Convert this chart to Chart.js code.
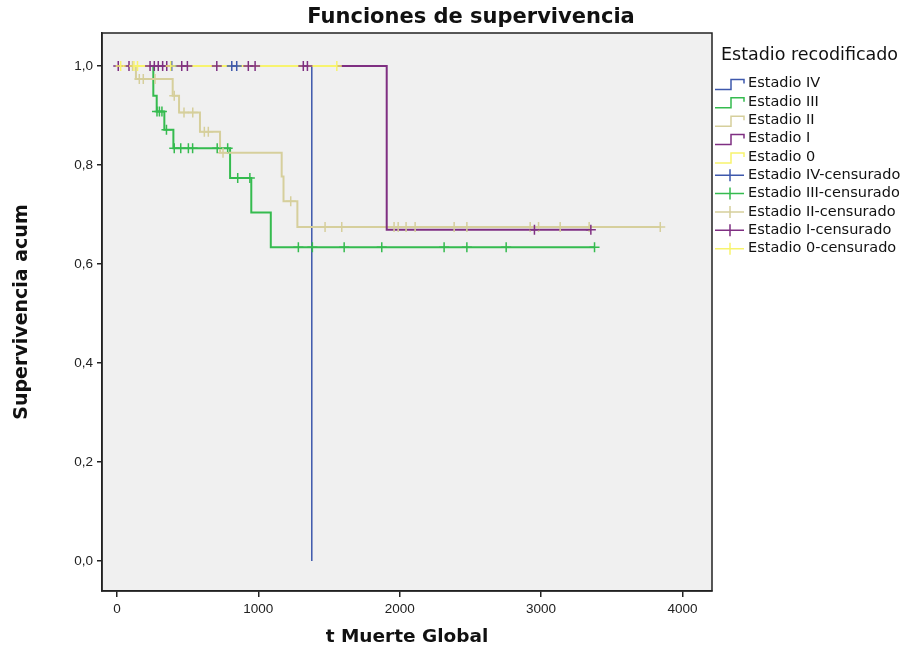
<!DOCTYPE html>
<html>
<head>
<meta charset="utf-8">
<title>Funciones de supervivencia</title>
<script src="https://cdn.jsdelivr.net/npm/chart.js@4.4.1/dist/chart.umd.min.js"></script>
<style>
  html, body { margin: 0; padding: 0; background: #fff; }
  #wrap { width: 913px; height: 653px; }
</style>
</head>
<body>
<div id="wrap"><canvas id="survChart" width="913" height="653"></canvas></div>
<script>
// Kaplan-Meier por estadio: tiempos de evento (días) y supervivencia acumulada tras cada evento
const stageNames = ['Estadio IV', 'Estadio III', 'Estadio II', 'Estadio I', 'Estadio 0']
const stageColors = ['#3e58ac', '#35bb4f', '#d6cf9c', '#7f2f82', '#f7f36e']

const ivTimes = [0, 1378]
const ivSurv = [1, 0]
const ivCensored = [387, 812, 847]

const iiiTimes = [0, 257, 281, 335, 399, 800, 950, 1088, 3378]
const iiiSurv = [1, 0.940, 0.908, 0.871, 0.834, 0.774, 0.704, 0.634, 0.634]
const iiiCensored = [283, 300, 318, 350, 405, 451, 505, 535, 709, 783, 854, 940,
  1283, 1382, 1607, 1873, 2314, 2475, 2753, 3378]

const iiTimes = [0, 134, 394, 439, 587, 729, 1165, 1178, 1276, 3843]
const iiSurv = [1, 0.974, 0.940, 0.906, 0.867, 0.825, 0.777, 0.727, 0.675, 0.675]
const iiCensored = [110, 158, 186, 269, 405, 474, 536, 618, 646, 750, 1229,
  1472, 1590, 1960, 1989, 2045, 2109, 2385, 2475, 2923, 2982, 3135, 3340, 3843]

const iTimes = [0, 1908, 3352]
const iSurv = [1, 0.669, 0.669]
const iCensored = [9, 85, 234, 264, 292, 323, 352, 458, 498, 706, 929, 977, 1318, 1347,
  2953, 3352]

const ceroTimes = [0, 1555]
const ceroSurv = [1, 1]
const ceroCensored = [26, 120, 145, 380, 1555]

const xTickValues = [0, 1000, 2000, 3000, 4000]
const yTickValues = [0, 0.2, 0.4, 0.6, 0.8, 1.0]

const curves = [
  { times: ivTimes, surv: ivSurv, censored: ivCensored },
  { times: iiiTimes, surv: iiiSurv, censored: iiiCensored },
  { times: iiTimes, surv: iiSurv, censored: iiCensored },
  { times: iTimes, surv: iSurv, censored: iCensored },
  { times: ceroTimes, surv: ceroSurv, censored: ceroCensored },
]

// valor de la curva escalonada en el instante t
function survAt(times, surv, t) {
  let s = surv[0]
  for (let i = 0; i < times.length; i++) {
    if (times[i] <= t) s = surv[i]
  }
  return s
}

const datasets = []
curves.forEach((c, k) => {
  datasets.push({
    label: stageNames[k],
    data: c.times.map((t, i) => ({ x: t, y: c.surv[i] })),
    showLine: true,
    stepped: 'before',
    borderColor: stageColors[k],
    borderWidth: k === 0 ? 1.5 : 2,
    pointRadius: 0,
    order: 20 - k,
  })
})
curves.forEach((c, k) => {
  datasets.push({
    label: stageNames[k] + '-censurado',
    data: c.censored.map((t) => ({ x: t, y: survAt(c.times, c.surv, t) })),
    showLine: false,
    pointStyle: 'cross',
    pointRadius: 5,
    borderWidth: 1.5,
    borderColor: stageColors[k],
    order: 10 - k,
  })
})

// fondo gris del área de trazado, marco, título y leyenda
const framePlugin = {
  id: 'spssFrame',
  beforeDraw(chart) {
    const { ctx, chartArea: a } = chart
    ctx.save()
    ctx.fillStyle = '#fff'
    ctx.fillRect(0, 0, chart.width, chart.height)
    ctx.fillStyle = '#f0f0f0'
    ctx.fillRect(a.left, a.top, a.right - a.left, a.bottom - a.top)
    ctx.restore()
  },
  afterDatasetsDraw(chart) {
    const { ctx, chartArea: a } = chart
    ctx.save()
    ctx.strokeStyle = '#222'
    ctx.lineWidth = 1.5
    ctx.strokeRect(a.left, a.top, a.right - a.left, a.bottom - a.top)
    ctx.restore()
  },
  afterDraw(chart) {
    const { ctx } = chart
    ctx.save()
    ctx.fillStyle = '#111'
    ctx.textBaseline = 'middle'
    ctx.textAlign = 'center'
    ctx.font = 'bold 21px "DejaVu Sans"'
    ctx.fillText('Funciones de supervivencia', 471, 18)

    ctx.textAlign = 'left'
    ctx.font = '17.5px "DejaVu Sans"'
    ctx.fillText('Estadio recodificado', 721, 55)

    ctx.font = '14.5px "DejaVu Sans"'
    const items = stageNames.map((n, k) => ({ text: n, color: stageColors[k], cross: false }))
      .concat(stageNames.map((n, k) => ({ text: n + '-censurado', color: stageColors[k], cross: true })))
    items.forEach((it, i) => {
      const y = 83.5 + i * 18.35
      ctx.strokeStyle = it.color
      ctx.lineWidth = 1.5
      ctx.beginPath()
      if (it.cross) {
        ctx.moveTo(715, y)
        ctx.lineTo(744, y)
        ctx.moveTo(730, y - 6)
        ctx.lineTo(730, y + 6)
      } else {
        ctx.moveTo(715, y + 6)
        ctx.lineTo(731, y + 6)
        ctx.lineTo(731, y - 4)
        ctx.lineTo(744, y - 4)
        ctx.lineTo(744, y)
      }
      ctx.stroke()
      ctx.fillStyle = '#111'
      ctx.fillText(it.text, 748, y)
    })
    ctx.restore()
  },
}

const ctx = document.getElementById('survChart').getContext('2d')
new Chart(ctx, {
  type: 'scatter',
  data: { datasets },
  plugins: [framePlugin],
  options: {
    responsive: false,
    animation: false,
    devicePixelRatio: 1,
    layout: { padding: { left: 0, right: 201, top: 33, bottom: 0 } },
    plugins: {
      legend: { display: false },
      tooltip: { enabled: false },
      title: { display: false },
    },
    scales: {
      x: {
        type: 'linear',
        min: -106,
        max: 4209,
        afterBuildTicks: (axis) => { axis.ticks = xTickValues.map((v) => ({ value: v })) },
        afterFit: (axis) => { axis.height = 62 },
        grid: { drawOnChartArea: false, drawTicks: true, tickLength: 6, color: '#222', lineWidth: 1.5 },
        border: { display: true, color: '#222', width: 1.5 },
        ticks: {
          padding: 4,
          autoSkip: false,
          maxRotation: 0,
          color: '#222',
          font: { family: 'Liberation Sans', size: 13.5 },
          callback: (v) => String(v),
        },
        title: {
          display: true,
          text: 't Muerte Global',
          color: '#111',
          font: { family: 'DejaVu Sans', size: 18.5, weight: 'bold' },
          padding: { top: 0, bottom: 5 },
        },
      },
      y: {
        type: 'linear',
        min: -0.0606,
        max: 1.0667,
        afterBuildTicks: (axis) => { axis.ticks = yTickValues.map((v) => ({ value: v })) },
        afterFit: (axis) => { axis.width = 102 },
        grid: { drawOnChartArea: false, drawTicks: true, tickLength: 5, color: '#222', lineWidth: 1.5 },
        border: { display: true, color: '#222', width: 1.5 },
        ticks: {
          padding: 4,
          autoSkip: false,
          color: '#222',
          font: { family: 'Liberation Sans', size: 13.5 },
          callback: (v) => v.toFixed(1).replace('.', ','),
        },
        title: {
          display: true,
          text: 'Supervivencia acum',
          color: '#111',
          font: { family: 'DejaVu Sans', size: 19, weight: 'bold' },
          padding: { top: 11, bottom: 0 },
        },
      },
    },
  },
})
</script>
</body>
</html>
